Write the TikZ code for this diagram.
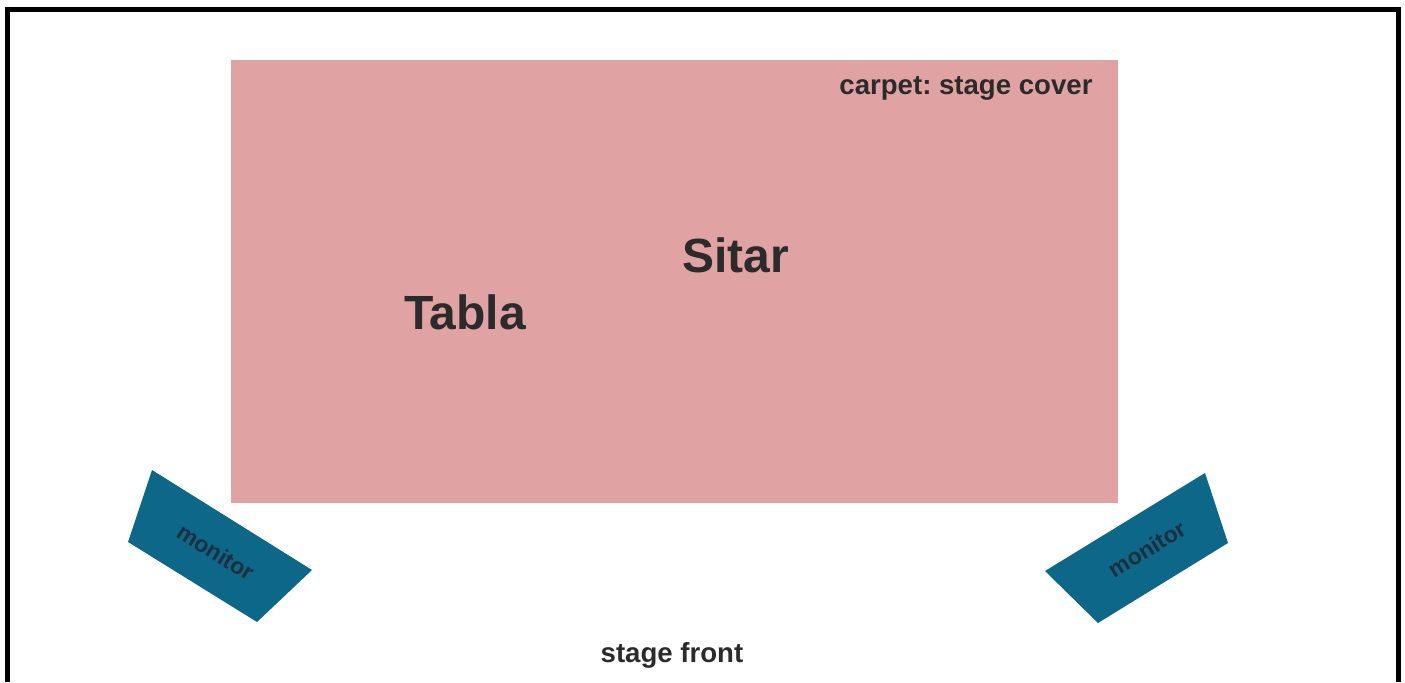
\documentclass[tikz,border=0pt]{standalone}
\usepackage{fontspec}
\setmainfont{Liberation Sans}
\frenchspacing
\definecolor{carpetpink}{HTML}{E0A2A2}
\definecolor{monitorblue}{HTML}{0D6788}
\definecolor{inktext}{HTML}{2B2B2B}
\definecolor{monitorink}{HTML}{1C2F3D}
\tikzset{
  label/.style={font=\bfseries\fontsize{13.8}{16}\selectfont, text=inktext, inner sep=0pt},
  player/.style={font=\bfseries\fontsize{24}{28}\selectfont, text=inktext, inner sep=0pt},
  wedge/.style={fill=monitorblue, draw=none},
  wedgetext/.style={font=\bfseries\fontsize{11.5}{13}\selectfont, text=monitorink, inner sep=0pt}
}
\begin{document}
\begin{tikzpicture}[x=0.5pt, y=-0.5pt]
          \useasboundingbox (0, 0) rectangle (1405, 682);
          % frame, open at the bottom
          \draw[line width=2.5pt] (7.5, 682) -- (7.5, 9) -- (1398, 9) -- (1398, 682);
          % carpet
          \fill[carpetpink] (231, 60) rectangle (1118, 503);
          \node[label, anchor=base] (cover) at (966, 94){carpet: stage cover};
          \node[player, anchor=base] (sitar) at (735.5, 272){Sitar};
          \node[player, anchor=base] (tabla) at (465, 329){Tabla};
          % monitors
          \fill[wedge] (152, 470) -- (312, 570) -- (257, 622) -- (128, 542) -- cycle;
          \node[wedgetext, rotate=-32] (monl) at (216, 552){monitor};
          \fill[wedge] (1205, 473) -- (1228, 543) -- (1098, 623) -- (1045, 571) -- cycle;
          \node[wedgetext, rotate=31.5] (monr) at (1147, 549){monitor};
          \node[label, anchor=base] (front) at (672, 662){stage front};
       \end{tikzpicture}
\end{document}
